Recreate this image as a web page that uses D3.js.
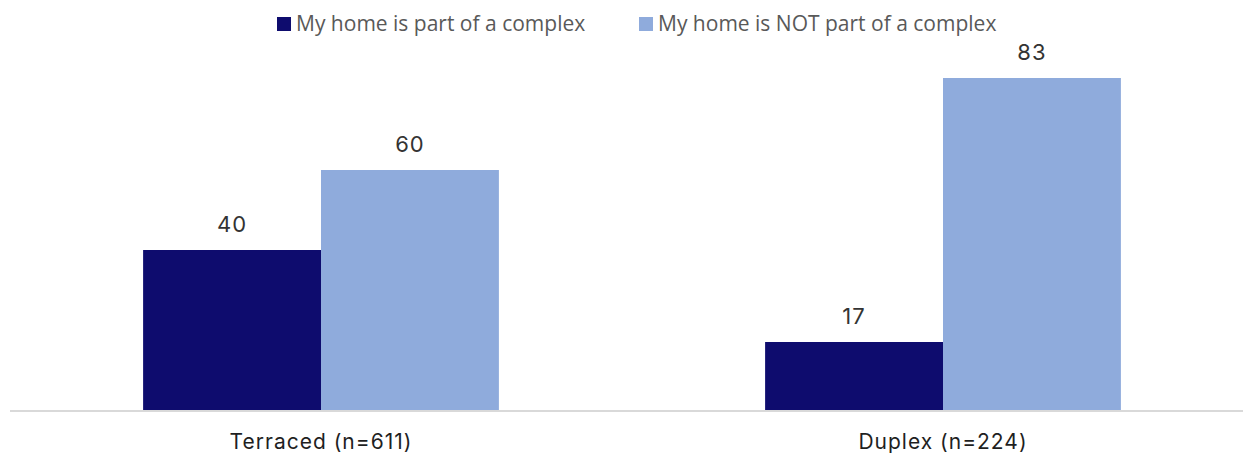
<!DOCTYPE html>
<html>
<head>
<meta charset="utf-8">
<script src="https://cdn.jsdelivr.net/npm/d3@7"></script>
<style>
  html, body { margin: 0; padding: 0; background: #fff; overflow: hidden; }
  svg { display: block; }
</style>
</head>
<body>
<div id="chart"></div>
<script>
// Home type categories and share (%) in each series
const categories = ["Terraced (n=611)", "Duplex (n=224)"];
const seriesNames = ["My home is part of a complex", "My home is NOT part of a complex"];
const partOfComplex = [40, 17];
const notPartOfComplex = [60, 83];
const seriesColors = ["#0E0C6E", "#8FABDC"];

const width = 1243, height = 454;
const svg = d3.select("#chart").append("svg")
  .attr("width", width).attr("height", height);

const rows = categories.map((c, i) => ({
  category: c,
  values: [partOfComplex[i], notPartOfComplex[i]]
}));

const x0 = d3.scaleBand().domain(categories).range([10, 1254]).padding(0);
const groupWidth = x0.bandwidth() * 0.572;
const x1 = d3.scaleBand().domain(d3.range(seriesNames.length)).range([0, groupWidth]).padding(0);
const y = d3.scaleLinear().domain([0, 100]).range([410, 10]);

// bars
const groups = svg.append("g").selectAll("g").data(rows).join("g")
  .attr("transform", d => `translate(${x0(d.category) + (x0.bandwidth() - groupWidth) / 2},0)`);

groups.selectAll("rect").data(d => d.values.map((v, i) => ({ v, i })))
  .join("rect")
  .attr("x", d => x1(d.i))
  .attr("y", d => y(d.v))
  .attr("width", x1.bandwidth())
  .attr("height", d => y(0) - y(d.v))
  .attr("fill", d => seriesColors[d.i]);

// value labels
groups.selectAll("text").data(d => d.values.map((v, i) => ({ v, i })))
  .join("text")
  .attr("x", d => x1(d.i) + x1.bandwidth() / 2)
  .attr("y", d => y(d.v) - 18)
  .attr("text-anchor", "middle")
  .attr("font-family", "Inter, 'Noto Sans', sans-serif")
  .attr("font-size", 22)
  .attr("letter-spacing", 1)
  .attr("fill", "#333333")
  .text(d => d.v);

// category axis
const xAxis = svg.append("g").attr("transform", `translate(0,${y(0)})`)
  .call(d3.axisBottom(x0).tickSize(0).tickPadding(0));
xAxis.select(".domain").attr("d", `M10,1H${width}`).attr("stroke", "#D9D9D9").attr("stroke-width", 2);
xAxis.selectAll(".tick text")
  .attr("y", 39)
  .attr("dy", 0)
  .attr("font-family", "Inter, 'Noto Sans', sans-serif")
  .attr("font-size", 21)
  .attr("letter-spacing", 1)
  .attr("fill", "#1F1F1F");

// legend
const legendX = [277, 639];
const legend = svg.append("g").selectAll("g").data(seriesNames).join("g")
  .attr("transform", (d, i) => `translate(${legendX[i]},0)`);
legend.append("rect").attr("x", 0).attr("y", 17).attr("width", 14).attr("height", 14)
  .attr("fill", (d, i) => seriesColors[i]);
legend.append("text").attr("x", 19).attr("y", 31)
  .attr("font-family", "'Open Sans', sans-serif")
  .attr("font-size", 21)
  .attr("fill", "#595959")
  .text(d => d);
</script>
</body>
</html>
